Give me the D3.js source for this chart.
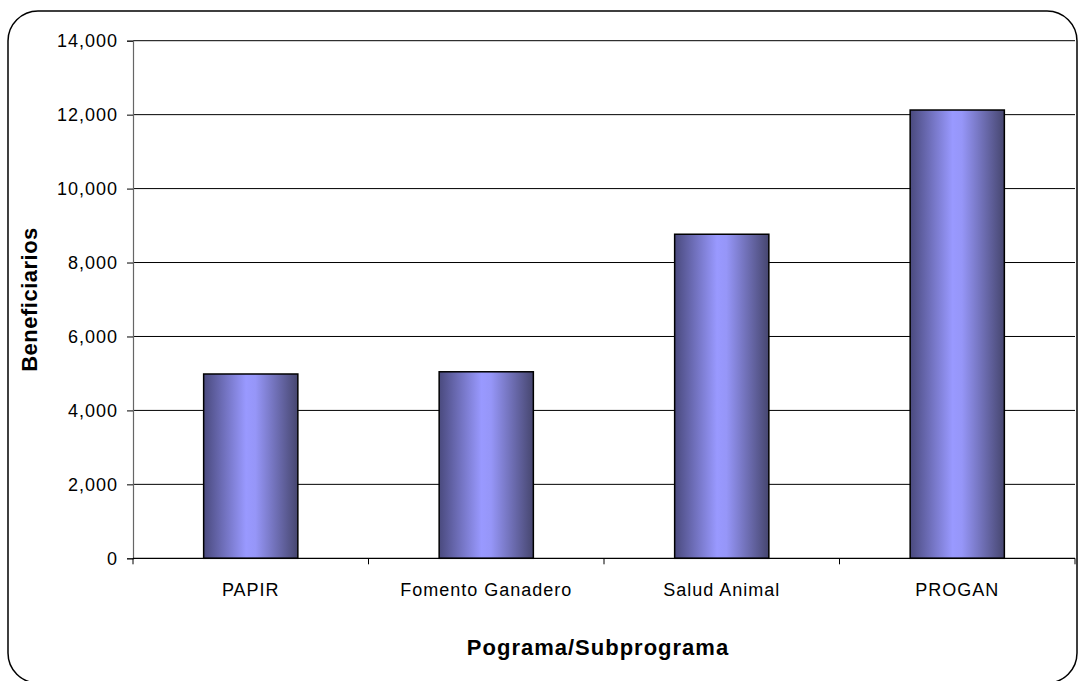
<!DOCTYPE html>
<html>
<head>
<meta charset="utf-8">
<script src="https://cdn.jsdelivr.net/npm/d3@7"></script>
<style>
  html, body { margin: 0; padding: 0; background: #fff; }
  svg { display: block; }
  text { font-family: "Liberation Sans", Arial, sans-serif; fill: #000; }
</style>
</head>
<body>
<svg id="chart" width="1079" height="681"></svg>
<script>
const categories = ["PAPIR", "Fomento Ganadero", "Salud Animal", "PROGAN"];
const values = [4985, 5045, 8765, 12125];
const yTicks = [0, 2000, 4000, 6000, 8000, 10000, 12000, 14000];
const yTitle = "Beneficiarios";
const xTitle = "Pograma/Subprograma";

const svg = d3.select("#chart");
const plot = { left: 133, right: 1075, top: 40.7, bottom: 558.3 };

// frame
svg.append("rect")
  .attr("x", 8).attr("y", 11)
  .attr("width", 1069).attr("height", 672)
  .attr("rx", 30).attr("ry", 30)
  .attr("fill", "none").attr("stroke", "#000").attr("stroke-width", 1.5);

const defs = svg.append("defs");
const grad = defs.append("linearGradient").attr("id", "barGrad")
  .attr("x1", "0%").attr("x2", "100%").attr("y1", "0%").attr("y2", "0%");
grad.append("stop").attr("offset", "0%").attr("stop-color", "#4a4a7e");
grad.append("stop").attr("offset", "45%").attr("stop-color", "#9999ff");
grad.append("stop").attr("offset", "55%").attr("stop-color", "#9696f8");
grad.append("stop").attr("offset", "100%").attr("stop-color", "#46466f");

const x = d3.scaleBand().domain(categories).range([plot.left, plot.right]).paddingInner(0).paddingOuter(0);
const y = d3.scaleLinear().domain([0, 14000]).range([plot.bottom, plot.top]);

// gridlines
svg.append("g").selectAll("line").data(yTicks.filter(d => d > 0)).join("line")
  .attr("x1", plot.left).attr("x2", plot.right)
  .attr("y1", d => y(d)).attr("y2", d => y(d))
  .attr("stroke", "#000").attr("stroke-width", 1);

// y axis
const yAxis = d3.axisLeft(y).tickValues(yTicks).tickFormat(d3.format(",")).tickSize(6).tickPadding(9);
const gy = svg.append("g").attr("transform", `translate(${plot.left},0)`).call(yAxis);
gy.select(".domain").attr("stroke", "#666").attr("stroke-width", 1.2);
gy.selectAll(".tick line").attr("stroke", "#000");
gy.selectAll(".tick text").attr("font-size", 18).attr("fill", "#000")
  .attr("letter-spacing", 1)
  .style("font-family", "'Liberation Sans', Arial, sans-serif");

// bars
const bw = x.bandwidth() * 0.4;
svg.append("g").selectAll("rect").data(categories).join("rect")
  .attr("x", d => x(d) + (x.bandwidth() - bw) / 2)
  .attr("width", bw)
  .attr("y", (d, i) => y(values[i]))
  .attr("height", (d, i) => y(0) - y(values[i]))
  .attr("fill", "url(#barGrad)")
  .attr("stroke", "#000").attr("stroke-width", 1.5);

// x axis
const gx = svg.append("g").attr("transform", `translate(0,${plot.bottom})`);
gx.append("line").attr("x1", plot.left).attr("x2", plot.right).attr("stroke", "#000").attr("stroke-width", 1.2);
const bounds = categories.map(c => x(c)).concat([x(categories[categories.length - 1]) + x.bandwidth()]);
gx.selectAll("line.tk").data(bounds).join("line").attr("class", "tk")
  .attr("x1", d => d).attr("x2", d => d).attr("y1", 0).attr("y2", 6)
  .attr("stroke", "#000");
gx.selectAll("text").data(categories).join("text")
  .attr("x", d => x(d) + x.bandwidth() / 2)
  .attr("y", 38)
  .attr("text-anchor", "middle")
  .attr("font-size", 18)
  .attr("letter-spacing", 1)
  .text(d => d);

// axis titles
svg.append("text")
  .attr("x", 598).attr("y", 655)
  .attr("text-anchor", "middle").attr("font-size", 22).attr("font-weight", "bold")
  .attr("letter-spacing", 1)
  .text(xTitle);
svg.append("text")
  .attr("transform", `translate(37,${(plot.top + plot.bottom) / 2}) rotate(-90)`)
  .attr("text-anchor", "middle").attr("font-size", 22).attr("font-weight", "bold")
  .attr("letter-spacing", 0.5)
  .text(yTitle);
</script>
</body>
</html>
